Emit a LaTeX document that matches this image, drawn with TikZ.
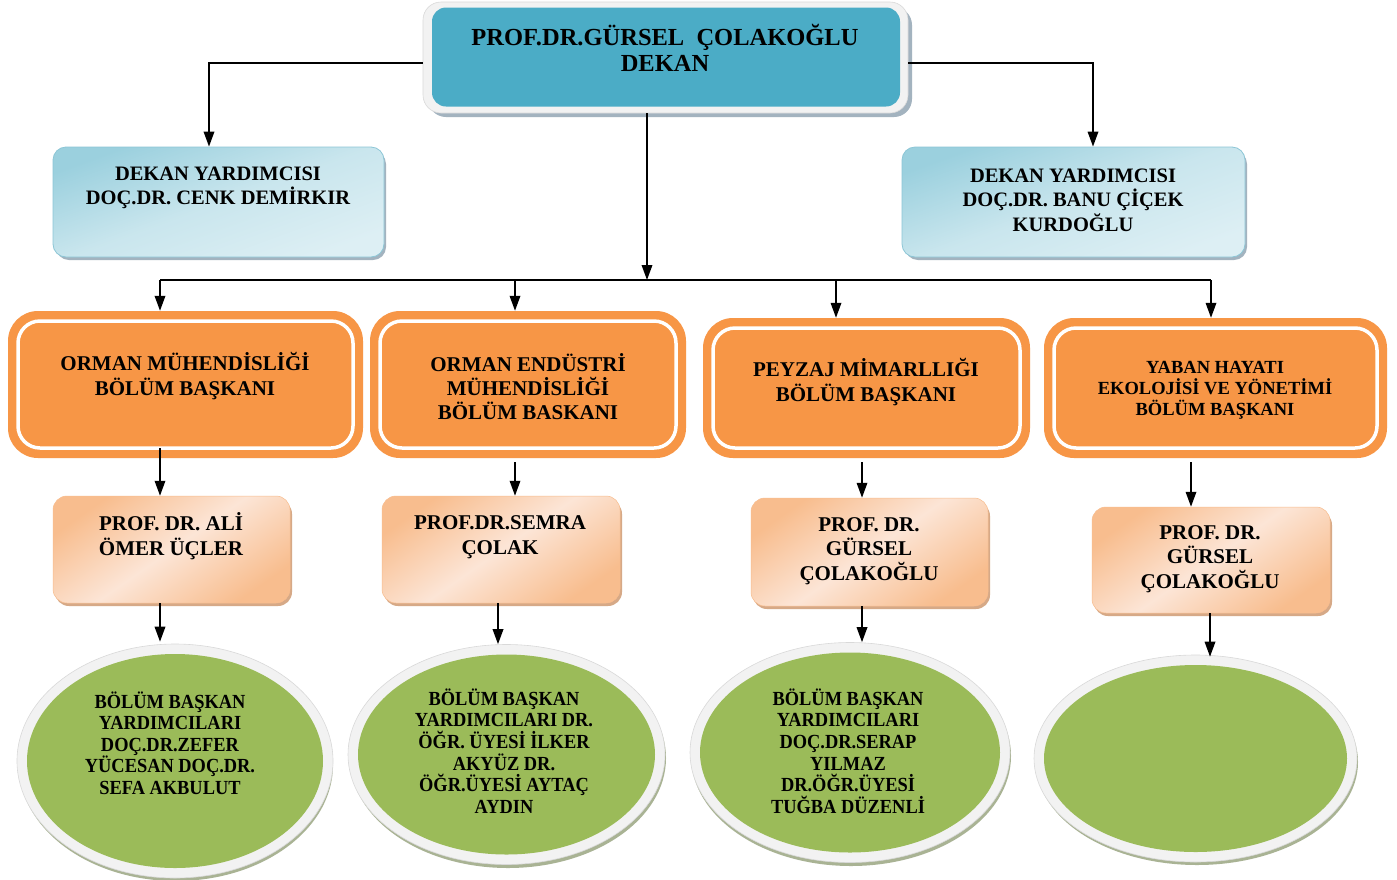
\documentclass[tikz,border=0pt]{standalone}
\usepackage{fontspec}
\setmainfont{Liberation Serif}
\usetikzlibrary{arrows.meta,calc,shapes.geometric}
\definecolor{cTeal}{HTML}{4BACC6}
\definecolor{cFrame}{HTML}{F2F2F2}
\definecolor{cFrameEdge}{HTML}{D9D9D9}
\definecolor{cShBlue}{HTML}{A3B3BF}
\definecolor{cBlueA}{HTML}{9BD0DE}
\definecolor{cBlueB}{HTML}{DDEFF4}
\definecolor{cBlueEdge}{HTML}{8CC6D6}
\definecolor{cOrange}{HTML}{F79646}
\definecolor{cPeachA}{HTML}{F8BD8E}
\definecolor{cPeachB}{HTML}{FCE5D6}
\definecolor{cShPeach}{HTML}{D6A987}
\definecolor{cGreen}{HTML}{9BBB59}
\definecolor{cShGreen}{HTML}{A9B394}
\begin{document}
\begin{tikzpicture}[x=1pt,y=-1pt,
  ln/.style={line width=1.8pt},
  arr/.style={line width=1.8pt,-{Triangle[width=10.5pt,length=15pt]}},
  frame/.style={draw=cFrameEdge,fill=cFrame,line width=0.6pt,inner sep=0pt},
  bluebox/.style={draw=cBlueEdge,line width=0.8pt,rounded corners=13pt,inner sep=0pt,
     top color=cBlueA,bottom color=cBlueB,middle color=cBlueB!70!cBlueA,shading angle=20},
  orouter/.style={fill=cOrange,rounded corners=30pt,inner sep=0pt},
  orinner/.style={fill=cOrange,draw=white,line width=3.5pt,rounded corners=22pt,inner sep=0pt},
  peach/.style={rounded corners=14pt,inner sep=0pt,draw=cPeachA,line width=0.5pt,
     top color=cPeachA,bottom color=cPeachA,middle color=cPeachB,shading angle=35},
  outell/.style={ellipse,frame,draw=cFrameEdge},
  inell/.style={ellipse,fill=cGreen,inner sep=0pt},
  txt/.style={align=center,inner sep=0pt,font=\bfseries},
  elltxt/.style={align=center,inner sep=0pt,font=\fontsize{20}{21.6}\selectfont\bfseries\addfontfeature{FakeStretch=0.92}}
]
\useasboundingbox (0,0) rectangle (1397,879);
\fill[white] (0,0) rectangle (1397,879);

% ---------- Dean ----------
\fill[cShBlue,rounded corners=18pt] (428,7) rectangle (912,117);
\node[frame,rounded corners=18pt,minimum width=485pt,minimum height=111pt] (dean) at (665.5,57.5) {};
\node[fill=cTeal,rounded corners=14pt,minimum width=468pt,minimum height=99pt,inner sep=0pt] (deanin) at (666,57) {};
\node[txt,font=\fontsize{24.5}{26}\selectfont\bfseries] (deant) at (665,48) {PROF.DR.GÜRSEL\ \ ÇOLAKOĞLU\\DEKAN};

% ---------- Vice deans ----------
\fill[cShBlue,rounded corners=13pt] (56,151) rectangle (386,260);
\node[bluebox,minimum width=331pt,minimum height=110pt] (vd1) at (218.5,202) {};
\node[txt,font=\fontsize{20.5}{24.5}\selectfont\bfseries] (vd1t) at (218,188) {DEKAN YARDIMCISI\\DOÇ.DR. CENK DEMİRKIR};

\fill[cShBlue,rounded corners=13pt] (905,151) rectangle (1247,260);
\node[bluebox,minimum width=343pt,minimum height=110pt] (vd2) at (1073.5,202) {};
\node[txt,font=\fontsize{20.5}{24.5}\selectfont\bfseries] (vd2t) at (1073,200) {DEKAN YARDIMCISI\\DOÇ.DR. BANU ÇİÇEK\\KURDOĞLU};

% ---------- Department heads ----------
\node[orouter,minimum width=355pt,minimum height=147pt] (om1) at (185.5,384.5) {};
\node[orinner,minimum width=335pt,minimum height=127pt] (om1i) at (185.5,384.5) {};
\node[txt,font=\fontsize{21}{25}\selectfont\bfseries] (om1t) at (185,376) {ORMAN MÜHENDİSLİĞİ\\BÖLÜM BAŞKANI};

\node[orouter,minimum width=316pt,minimum height=147pt] (om2) at (528,384.5) {};
\node[orinner,minimum width=296pt,minimum height=127pt] (om2i) at (528,384.5) {};
\node[txt,font=\fontsize{21}{24}\selectfont\bfseries] (om2t) at (528,387) {ORMAN ENDÜSTRİ\\MÜHENDİSLİĞİ\\BÖLÜM BASKANI};

\node[orouter,minimum width=327pt,minimum height=140pt] (om3) at (866.5,388) {};
\node[orinner,minimum width=307pt,minimum height=120pt] (om3i) at (866.5,388) {};
\node[txt,font=\fontsize{21}{25}\selectfont\bfseries] (om3t) at (866,382) {PEYZAJ MİMARLLIĞI\\BÖLÜM BAŞKANI};

\node[orouter,minimum width=343pt,minimum height=140pt] (om4) at (1215.5,388) {};
\node[orinner,minimum width=323pt,minimum height=120pt] (om4i) at (1215.5,388) {};
\node[txt,font=\fontsize{18.5}{21}\selectfont\bfseries] (om4t) at (1215,390) {YABAN HAYATI\\EKOLOJİSİ VE YÖNETİMİ\\BÖLÜM BAŞKANI};

% ---------- Professors ----------
\fill[cShPeach,rounded corners=14pt] (55,500) rectangle (292,606);
\node[peach,minimum width=237pt,minimum height=107pt] (p1) at (171.5,549.5) {};
\node[txt,font=\fontsize{21}{25}\selectfont\bfseries] (p1t) at (171,536) {PROF. DR. ALİ\\ÖMER ÜÇLER};

\fill[cShPeach,rounded corners=14pt] (384,500) rectangle (622,606);
\node[peach,minimum width=238pt,minimum height=107pt] (p2) at (501,549.5) {};
\node[txt,font=\fontsize{21}{25}\selectfont\bfseries] (p2t) at (500,537) {PROF.DR.SEMRA\\ÇOLAK};

\fill[cShPeach,rounded corners=14pt] (753,502) rectangle (990,609);
\node[peach,minimum width=237pt,minimum height=108pt] (p3) at (869.5,552) {};
\node[txt,font=\fontsize{21}{24.5}\selectfont\bfseries] (p3t) at (869,551) {PROF. DR.\\GÜRSEL\\ÇOLAKOĞLU};

\fill[cShPeach,rounded corners=14pt] (1094,511) rectangle (1332,616);
\node[peach,minimum width=238pt,minimum height=106pt] (p4) at (1211,560) {};
\node[txt,font=\fontsize{21}{24.5}\selectfont\bfseries] (p4t) at (1210,559) {PROF. DR.\\GÜRSEL\\ÇOLAKOĞLU};

% ---------- Vice heads (ellipses) ----------
\fill[cShGreen] (176,765) ellipse [x radius=157pt, y radius=116pt];
\node[outell,minimum width=316pt,minimum height=234pt] (e1) at (175,761) {};
\node[inell,minimum width=296pt,minimum height=214pt] (e1i) at (175,761) {};
\node[elltxt] (e1t) at (170,743) {BÖLÜM BAŞKAN\\YARDIMCILARI\\DOÇ.DR.ZEFER\\YÜCESAN DOÇ.DR.\\SEFA AKBULUT};

\fill[cShGreen] (508,758) ellipse [x radius=158pt, y radius=110pt];
\node[outell,minimum width=317pt,minimum height=220pt] (e2) at (506.5,754.5) {};
\node[inell,minimum width=297pt,minimum height=200pt] (e2i) at (506.5,754.5) {};
\node[elltxt] (e2t) at (504,751) {BÖLÜM BAŞKAN\\YARDIMCILARI DR.\\ÖĞR. ÜYESİ İLKER\\AKYÜZ DR.\\ÖĞR.ÜYESİ AYTAÇ\\AYDIN};

\fill[cShGreen] (851,756) ellipse [x radius=160pt, y radius=110pt];
\node[outell,minimum width=320pt,minimum height=220pt] (e3) at (850,752.5) {};
\node[inell,minimum width=300pt,minimum height=200pt] (e3i) at (850,752.5) {};
\node[elltxt] (e3t) at (848,751) {BÖLÜM BAŞKAN\\YARDIMCILARI\\DOÇ.DR.SERAP\\YILMAZ\\DR.ÖĞR.ÜYESİ\\TUĞBA DÜZENLİ};

\fill[cShGreen] (1197,762) ellipse [x radius=161pt, y radius=103pt];
\node[outell,minimum width=323pt,minimum height=207pt] (e4) at (1195.5,758.5) {};
\node[inell,minimum width=303pt,minimum height=187pt] (e4i) at (1195.5,758.5) {};

% ---------- Connectors ----------
\coordinate (busc) at (647,280);
\coordinate (b1) at (160,280);
\coordinate (b2) at (515,280);
\coordinate (b3) at (836,280);
\coordinate (b4) at (1211,280);

\draw[arr] ([yshift=-5.5pt]dean.west) -| ([xshift=-9.5pt]vd1.north);
\draw[arr] ([yshift=-5.5pt]dean.east) -| ([xshift=19.5pt]vd2.north);
\draw[arr] ([xshift=-18.5pt]dean.south) -- (busc);
\draw[ln] (b1) -- (b4);
\draw[arr] (b1) -- (b1 |- om1.north);
\draw[arr] (b2) -- (b2 |- om2.north);
\draw[arr] (b3) -- (b3 |- om3.north);
\draw[arr] (b4) -- (b4 |- om4.north);

\draw[arr] ([xshift=-25.5pt,yshift=10pt]om1.south) -- ([xshift=-11.5pt]p1.north);
\draw[arr] ([xshift=-13pt,yshift=-4pt]om2.south) -- ([xshift=14pt]p2.north);
\draw[arr] ([xshift=-4.5pt,yshift=-4pt]om3.south) -- ([xshift=-7.5pt]p3.north);
\draw[arr] ([xshift=-24.5pt,yshift=-4pt]om4.south) -- ([xshift=-20pt]p4.north);

\draw[arr] ([xshift=-11.5pt]p1.south) -- ([xshift=-11.5pt,yshift=2pt]p1.south |- e1.north);
\draw[arr] ([xshift=-3pt]p2.south) -- ([xshift=-3pt]p2.south |- e2.north);
\draw[arr] ([xshift=-7.5pt]p3.south) -- ([xshift=-7.5pt]p3.south |- e3.north);
\draw[arr] ([xshift=-1pt]p4.south) -- ([xshift=-1pt,yshift=-2pt]p4.south |- e4.north);
\end{tikzpicture}
\end{document}
